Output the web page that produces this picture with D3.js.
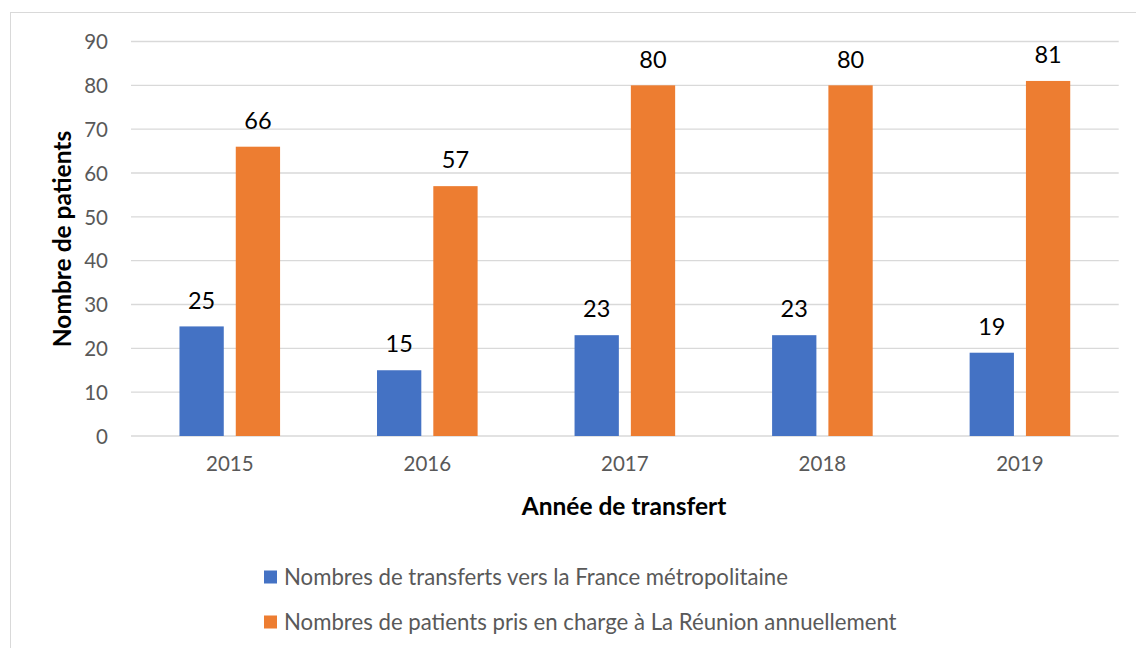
<!DOCTYPE html>
<html><head><meta charset="utf-8">
<script src="https://cdn.jsdelivr.net/npm/d3@7"></script>
<style>body{margin:0;background:#fff}svg{display:block}text{font-family:Lato,"Open Sans",sans-serif}</style>
</head><body>
<svg id="c" width="1136" height="648"></svg>
<script>
const categories = ["2015","2016","2017","2018","2019"];
const seriesNames = ["Nombres de transferts vers la France métropolitaine","Nombres de patients pris en charge à La Réunion annuellement"];
const transferts = [25,15,23,23,19];
const patients = [66,57,80,80,81];
const yTicks = [0,10,20,30,40,50,60,70,80,90];
const colors = ["#4472C4","#ED7D31"];

const svg = d3.select("#c");
svg.append("rect").attr("x",10.5).attr("y",12.5).attr("width",1130).attr("height",640).attr("fill","none").attr("stroke","#d9d9d9");

const x = d3.scaleBand().domain(categories).range([131,1118.7]);
const y = d3.scaleLinear().domain([0,90]).range([436,41.5]);
const barW = 44.3, gap = 12;

const g = svg.append("g");
g.selectAll("line.grid").data(yTicks).join("line")
 .attr("x1",131).attr("x2",1118.7).attr("y1",d=>y(d)).attr("y2",d=>y(d))
 .attr("stroke","#d9d9d9").attr("stroke-width",1.3);

const yAxis = d3.axisLeft(y).tickValues(yTicks).tickSize(0).tickPadding(0);
const ya = svg.append("g").attr("transform","translate(108,0)").call(yAxis);
ya.select(".domain").remove();
ya.selectAll("text").attr("fill","#595959").style("font-size","20.5px").attr("dy","0.35em");

const xAxis = d3.axisBottom(x).tickSize(0).tickPadding(0);
const xa = svg.append("g").attr("transform","translate(0,456)").call(xAxis);
xa.select(".domain").remove();
xa.selectAll("text").attr("fill","#595959").style("font-size","20.5px").attr("dy","0.71em");

const series = [transferts, patients];
series.forEach((vals,si)=>{
  const off = si===0 ? -gap/2-barW : gap/2;
  g.selectAll("rect.s"+si).data(vals).join("rect")
   .attr("x",(d,i)=>x(categories[i])+x.bandwidth()/2+off)
   .attr("width",barW)
   .attr("y",d=>y(d)).attr("height",d=>y(0)-y(d)).attr("fill",colors[si]);
  g.selectAll("text.l"+si).data(vals).join("text")
   .attr("x",(d,i)=>x(categories[i])+x.bandwidth()/2+off+barW/2)
   .attr("y",d=>y(d)-26).attr("dy","0.35em").attr("text-anchor","middle")
   .attr("fill","#000").style("font-size","23.5px").text(d=>d);
});

svg.append("text").attr("transform","translate(62,239) rotate(-90)").attr("text-anchor","middle").attr("dy","0.35em")
 .style("font-size","24.5px").style("font-weight","bold").attr("fill","#000").text("Nombre de patients");
svg.append("text").attr("x",624).attr("y",506).attr("text-anchor","middle").attr("dy","0.35em")
 .style("font-size","24.5px").style("font-weight","bold").attr("fill","#000").text("Année de transfert");

const leg = svg.append("g");
seriesNames.forEach((n,i)=>{
  const yy = 577 + i*45;
  leg.append("rect").attr("x",264).attr("y",yy-6.5).attr("width",13).attr("height",13).attr("fill",colors[i]);
  leg.append("text").attr("x",284).attr("y",yy).attr("dy","0.35em").attr("fill","#595959").style("font-size","22.2px").text(n);
});
</script>
</body></html>
